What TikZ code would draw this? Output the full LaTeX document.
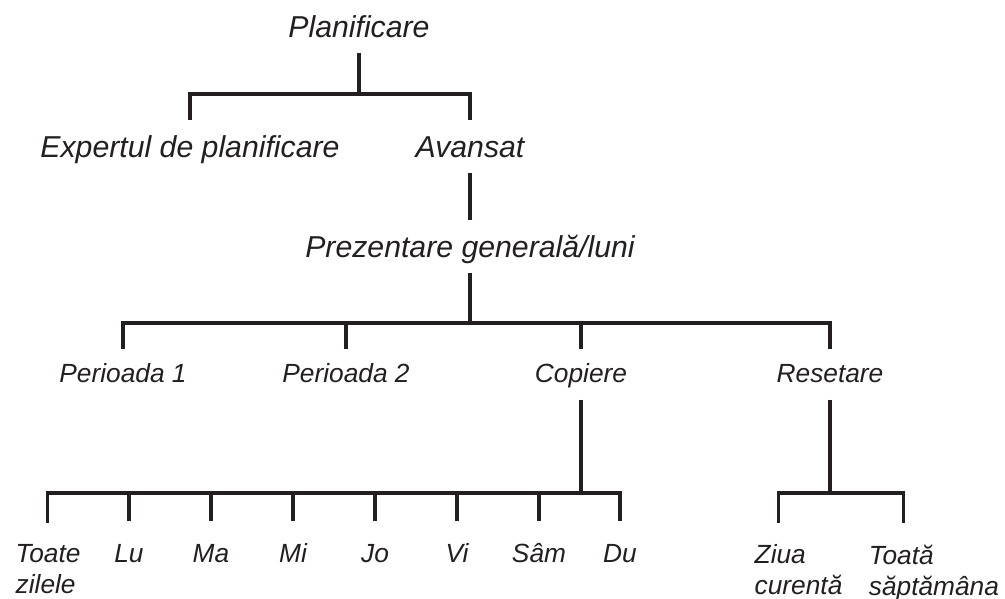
\documentclass[tikz,border=0pt]{standalone}
\usepackage{fontspec}
\setmainfont{Liberation Sans}
\definecolor{ink}{HTML}{231F20}
\newcommand{\lvlfont}{\fontsize{21.5}{26}\selectfont\itshape}
\newcommand{\leaffont}{\fontsize{18.7}{22}\selectfont\itshape}
\begin{document}
\begin{tikzpicture}[line width=2.4pt, color=ink,
  lvl/.style={font=\lvlfont, anchor=base, inner xsep=0pt, inner ysep=0.25cm, text height=0.625cm, text depth=0.1cm},
  sub/.style={font=\leaffont, anchor=base, inner xsep=0pt, inner ysep=0.25cm, text height=0.525cm, text depth=0.15cm},
  day/.style={font=\leaffont, anchor=base, inner xsep=0pt, inner ysep=0.25cm, text height=0.725cm, text depth=0.15cm},
  twoday/.style={font=\leaffont, anchor=north west, inner xsep=0pt, inner ysep=0.5cm, align=left}]
\useasboundingbox (0,0) rectangle (25.125,-14.95);
\node[lvl] (plan) at (8.975,-0.925) {Planificare};
\node[lvl] (exp) at (4.75,-3.925) {Expertul de planificare};
\node[lvl] (av) at (11.75,-3.925) {Avansat};
\node[lvl] (gen) at (11.75,-6.425) {Prezentare generală/luni};
\node[sub] (p1) at (3.075,-9.55) {Perioada 1};
\node[sub] (p2) at (8.65,-9.55) {Perioada 2};
\node[sub] (cop) at (14.525,-9.55) {Copiere};
\node[sub] (res) at (20.75,-9.55) {Resetare};
\node[twoday] (all) at (0.35,-13.075) {Toate\\zilele};
\node[day] (lu) at (3.225,-14.05) {Lu};
\node[day] (ma) at (5.275,-14.05) {Ma};
\node[day] (mi) at (7.325,-14.05) {Mi};
\node[day] (jo) at (9.375,-14.05) {Jo};
\node[day] (vi) at (11.425,-14.05) {Vi};
\node[day] (sa) at (13.475,-14.05) {Sâm};
\node[day] (du) at (15.5,-14.05) {Du};
\node[twoday] (today) at (18.825,-13.075) {Ziua\\curentă};
\node[twoday] (week) at (21.68,-13.075) {Toată\\săptămâna};
\coordinate (j0) at (8.975,-2.35);
\coordinate (j1) at (11.75,-8.075);
\coordinate (j2) at (14.525,-12.325);
\coordinate (j3) at (20.75,-12.325);
\draw (plan) -- (j0) -| (exp);
\draw (j0) -| (av);
\draw (av) -- (gen);
\draw (gen) -- (j1) -| (p1);
\draw (j1) -| (p2);
\draw (j1) -| (cop);
\draw (j1) -| (res);
\draw (cop) -- (j2) -| ([xshift=0.84cm]all.north west);
\draw (j2) -| (lu);
\draw (j2) -| (ma);
\draw (j2) -| (mi);
\draw (j2) -| (jo);
\draw (j2) -| (vi);
\draw (j2) -| (sa);
\draw (j2) -| (du);
\draw (res) -- (j3) -| ([xshift=0.64cm]today.north west);
\draw (j3) -| ([xshift=0.91cm]week.north west);
\end{tikzpicture}
\end{document}
